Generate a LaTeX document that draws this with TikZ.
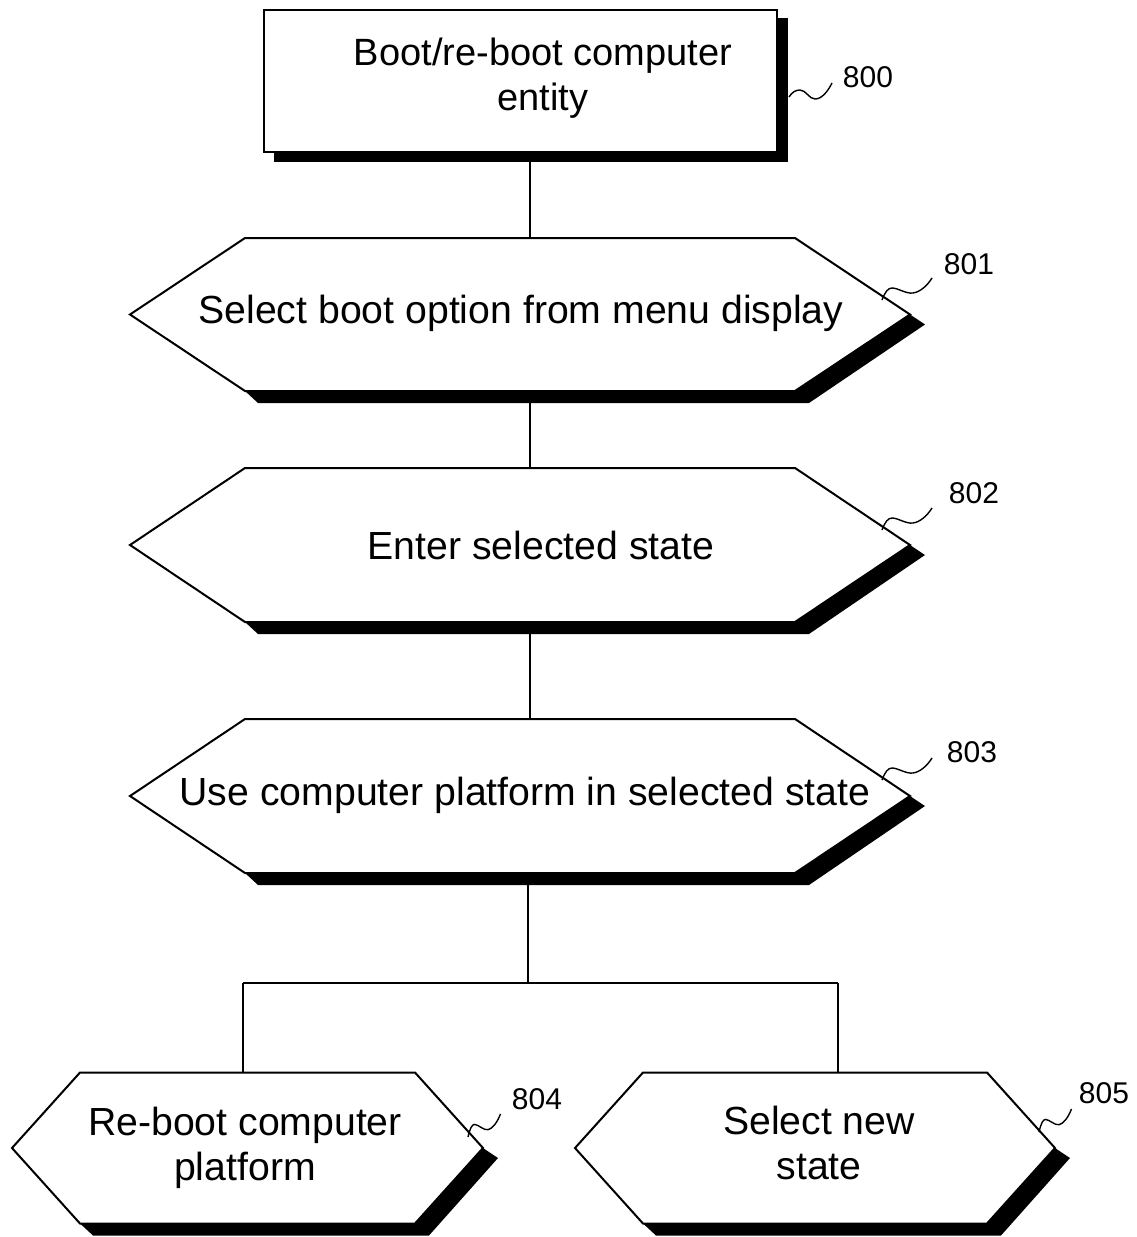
\documentclass[tikz,border=0pt]{standalone}
\usepackage{fontspec}
\setmainfont{Liberation Sans}
\usetikzlibrary{calc}
\tikzset{
  anchorbox/.style={draw=none, inner sep=0pt, outer sep=0pt},
  outline/.style={draw=black, fill=white, line width=1pt, line join=miter},
  shadowfill/.style={fill=black},
  txt/.style={font=\fontsize{19}{22.5}\selectfont, align=center, inner sep=0pt},
  hextxt/.style={font=\fontsize{19.6}{22.8}\selectfont, align=center, inner sep=0pt},
  lbl/.style={font=\fontsize{15}{18}\selectfont, inner sep=0pt},
  link/.style={draw=black, line width=0.6pt},
  lead/.style={draw=black, line width=0.7pt},
  squig/.pic={\draw[lead] (0,0) .. controls (3,-8) and (6,-12) .. (10,-12) .. controls (16,-12) and (24,-6) .. (31,-7) .. controls (38,-8) and (45,-14) .. (50,-22);},
  squigflat/.pic={\draw[lead] (0,0) .. controls (3,-5) and (7,-7) .. (11,-7) .. controls (17,-7) and (20,2) .. (26,2) .. controls (33,2) and (39,-6) .. (43,-14);}
}
% name, cx, cy, width, height, chamfer
\newcommand{\hexstep}[6]{%
  \node[anchorbox, minimum width=#4*0.5pt, minimum height=#5*0.5pt] (#1) at (#2,#3) {};
  \fill[shadowfill] (#1.east) -- ($(#1.east)+(15,10)$) -- ($(#1.south east)+(-#6+14,12)$) -- ($(#1.south west)+(#6+13,12)$) -- ($(#1.south west)+(#6,0)$) -- ($(#1.south east)+(-#6,0)$) -- cycle;
  \path[outline] (#1.west) -- ($(#1.north west)+(#6,0)$) -- ($(#1.north east)+(-#6,0)$) -- (#1.east) -- ($(#1.south east)+(-#6,0)$) -- ($(#1.south west)+(#6,0)$) -- cycle;
}
\begin{document}
\begin{tikzpicture}[x=0.5pt, y=-0.5pt]
\useasboundingbox (0,0) rectangle (1136,1237);
\fill[white] (0,0) rectangle (1136,1237);

% top box
\node[anchorbox, minimum width=513*0.5pt, minimum height=142*0.5pt] (b800) at (520.5,81) {};
\fill[shadowfill] ($(b800.south west)+(10,10)$) rectangle ($(b800.north east)+(11,8)$);
\path[outline] (b800.south west) rectangle (b800.north east);
\node[txt] (t800) at (543,78) {Boot/re-boot computer\\entity};

% hexagons
\hexstep{h801}{520}{314.5}{780}{153}{115}
\node[hextxt] (t801) at (521,313) {Select boot option from menu display};
\hexstep{h802}{520}{545}{780}{154}{115}
\node[hextxt] (t802) at (541,545) {Enter selected state};
\hexstep{h803}{520}{796}{780}{154}{115}
\node[hextxt] (t803) at (525,795) {Use computer platform in selected state};
\hexstep{h804}{247.5}{1148}{471}{151}{68}
\node[hextxt] (t804) at (245,1148) {Re-boot computer\\platform};
\hexstep{h805}{815}{1148}{480}{151}{68}
\node[hextxt] (t805) at (819,1143) {Select new\\state};

% connectors
\coordinate (trunk) at (530,0);
\coordinate (split) at (528,983);
\coordinate (lb) at (243,983);
\coordinate (rb) at (838,983);
\draw[link] (trunk |- b800.south) ++(0,10) -- (trunk |- h801.north);
\draw[link] (trunk |- h801.south) ++(0,12) -- (trunk |- h802.north);
\draw[link] (trunk |- h802.south) ++(0,12) -- (trunk |- h803.north);
\draw[link] (split |- h803.south) ++(0,12) -- (split);
\draw[link] (lb) -- (rb);
\draw[link] (lb) -- (lb |- h804.north);
\draw[link] (rb) -- (rb |- h805.north);

% reference labels
\node[lbl] (l800) at (868,77) {800};
\node[lbl] (l801) at (969,264) {801};
\node[lbl] (l802) at (974,493) {802};
\node[lbl] (l803) at (972,752) {803};
\node[lbl] (l804) at (537,1099) {804};
\node[lbl] (l805) at (1104,1093) {805};

\coordinate (s800) at (789,97);
\coordinate (s801) at (882,300);
\coordinate (s802) at (882,530);
\coordinate (s803) at (882,780);
\coordinate (s804) at (468,1137);
\coordinate (s805) at (1039,1132);
\pic at (s800) {squigflat};
\pic at (s801) {squig};
\pic at (s802) {squig};
\pic at (s803) {squig};
\pic[xscale=0.65, yscale=1.05] at (s804) {squig};
\pic[xscale=0.65, yscale=1.05] at (s805) {squig};
\end{tikzpicture}
\end{document}
